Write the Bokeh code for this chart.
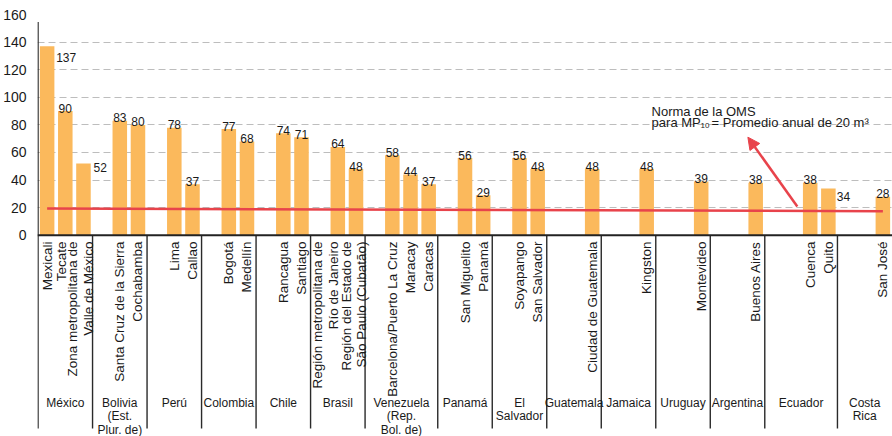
from math import pi
from bokeh.plotting import figure
from bokeh.models import ColumnDataSource, FixedTicker, Span, Arrow, NormalHead, Range1d
from bokeh.core.properties import value
from bokeh.embed import file_html
from bokeh.resources import INLINE

# ---------------- data ----------------
countries = ["México", "Bolivia\n(Est.\nPlur. de)", "Perú", "Colombia", "Chile", "Brasil",
             "Venezuela\n(Rep.\nBol. de)", "Panamá", "El\nSalvador", "Guatemala", "Jamaica",
             "Uruguay", "Argentina", "Ecuador", "Costa\nRica"]
country_slots = [3, 3, 3, 3, 3, 3, 4, 3, 3, 3, 3, 3, 3, 4, 3]
cities = [
    ["Mexicali", "Tecate", "Zona metropolitana de\nValle de México"],
    ["Santa Cruz de la Sierra", "Cochabamba"],
    ["Lima", "Callao"],
    ["Bogotá", "Medellín"],
    ["Rancagua", "Santiago"],
    ["Región metropolitana de\nRío de Janeiro", "Región del Estado de\nSão Paulo (Cubatão)"],
    ["Barcelona/Puerto La Cruz", "Maracay", "Caracas"],
    ["San Miguelito", "Panamá"],
    ["Soyapango", "San Salvador"],
    ["Ciudad de Guatemala"],
    ["Kingston"],
    ["Montevideo"],
    ["Buenos Aires"],
    ["Cuenca", "Quito"],
    ["San José"],
]
pm10 = [[137, 90, 52], [83, 80], [78, 37], [77, 68], [74, 71], [64, 48], [58, 44, 37],
        [56, 29], [56, 48], [48], [48], [39], [38], [38, 34], [28]]
y_ticks = [0, 20, 40, 60, 80, 100, 120, 140, 160]
norm_x = [0, 46]
norm_y = [19.4, 17.5]
note_line1 = "Norma de la OMS"
note_line2a = "para MP"
note_sub = "10"
note_line2b = "= Promedio anual de 20 m³"

# ---------------- styles ----------------
BAR = "#fbb95c"
RED = "#e8434b"
TXT = "#1a1a1a"
FONT = "Liberation Sans"
# label placement tweaks (pixels): city label x nudges, value labels placed beside bar
city_nudge = {"Tecate": -4, "Zona metropolitana de\nValle de México": -3,
              "Región metropolitana de\nRío de Janeiro": -12, "Región del Estado de\nSão Paulo (Cubatão)": -2}
side_labels = {"Mexicali": (9, 11), "Zona metropolitana de\nValle de México": (10, 4), "Quito": (8.5, 8)}

# ---------------- layout from data ----------------
bar_x, bar_v, bar_name = [], [], []
bounds, country_x = [], []
start = 0
for n, names, vals in zip(country_slots, cities, pm10):
    bounds.append(start - 0.5)
    country_x.append(start + n / 2 - 0.5)
    k = len(vals)
    for i, (nm, v) in enumerate(zip(names, vals)):
        bar_x.append(start + n - k + i)
        bar_v.append(v)
        bar_name.append(nm)
    start += n

src = ColumnDataSource(dict(x=bar_x, v=bar_v, name=bar_name,
                            nud=[city_nudge.get(n, 0) for n in bar_name]))

p = figure(width=892, height=436, x_range=Range1d(-0.53, 46.53), y_range=Range1d(-145.8, 160),
           output_backend="svg", toolbar_location=None, x_axis_location=None,
           min_border_top=14, min_border_bottom=0, min_border_right=0, min_border_left=0)
p.outline_line_color = None
p.background_fill_color = "white"
p.xgrid.visible = False
p.ygrid.ticker = FixedTicker(ticks=y_ticks[1:])
p.ygrid.grid_line_color = "#bdbdbd"
p.ygrid.grid_line_dash = "7 4"
p.ygrid.grid_line_width = 1.2

ax = p.yaxis[0]
ax.ticker = FixedTicker(ticks=y_ticks)
ax.axis_line_color = None
ax.major_tick_line_color = None
ax.minor_tick_line_color = None
ax.major_label_standoff = 5
ax.major_label_text_font = FONT
ax.major_label_text_font_size = "14px"
ax.major_label_text_color = TXT

# axis line + group separators
sep_top = [154.5] + [0] * (len(bounds) - 1)
p.segment(x0=bounds, y0=sep_top, x1=bounds, y1=[-140] * len(bounds),
          line_color="#2a2a2a", line_width=1.4)

p.vbar(x="x", top="v", width=0.8, source=src, fill_color=BAR, line_color=None)
p.add_layout(Span(location=0, dimension="width", line_color="#222222", line_width=2))

# WHO norm line and arrow
p.line(norm_x, norm_y, line_color=RED, line_width=2.5)
p.add_layout(Arrow(end=NormalHead(size=12, fill_color=RED, line_color=RED, line_width=1),
                   x_start=41.29, y_start=20.9, x_end=38.57, y_end=71.1,
                   line_color=RED, line_width=2.5))

# value labels
center_idx = [i for i, n in enumerate(bar_name) if n not in side_labels]
side_idx = [i for i, n in enumerate(bar_name) if n in side_labels]
p.text(x=[bar_x[i] for i in center_idx], y=[bar_v[i] for i in center_idx],
       text=[str(bar_v[i]) for i in center_idx], text_align="center", text_baseline="alphabetic",
       y_offset=-3, text_font=value(FONT), text_font_size="12px", text_color=TXT)
p.text(x=[bar_x[i] for i in side_idx], y=[bar_v[i] for i in side_idx],
       text=[str(bar_v[i]) for i in side_idx], text_align="left", text_baseline="alphabetic",
       x_offset=[side_labels[bar_name[i]][0] for i in side_idx],
       y_offset=[side_labels[bar_name[i]][1] for i in side_idx],
       text_font=value(FONT), text_font_size="12px", text_color=TXT)

# rotated city labels
p.text(x="x", y=-4.5, text="name", source=src, angle=pi / 2, x_offset="nud",
       text_align="right", text_baseline="middle", text_line_height=1.05,
       text_font=value(FONT), text_font_size="13.5px", text_color=TXT)

# country labels
p.text(x=country_x, y=[-116.4] * len(country_x), text=countries, text_align="center",
       text_baseline="top", text_line_height=0.96,
       text_font=value(FONT), text_font_size="12px", text_color=TXT)

# annotation
p.text(x=[33.27], y=[89.9], text=[note_line1], text_align="left", text_baseline="alphabetic",
       text_font=value(FONT), text_font_size="13px", text_color=TXT)
p.text(x=[33.27], y=[82.0], text=[note_line2a], text_align="left", text_baseline="alphabetic",
       text_font=value(FONT), text_font_size="13px", text_color=TXT)
p.text(x=[33.27], y=[82.0], text=[note_sub], text_align="left", text_baseline="alphabetic",
       x_offset=49, y_offset=3, text_font=value(FONT), text_font_size="8px", text_color=TXT)
p.text(x=[33.27], y=[82.0], text=[note_line2b], text_align="left", text_baseline="alphabetic",
       x_offset=60, text_font=value(FONT), text_font_size="13px", text_color=TXT)

open("out.html", "w").write(file_html(p, INLINE))
